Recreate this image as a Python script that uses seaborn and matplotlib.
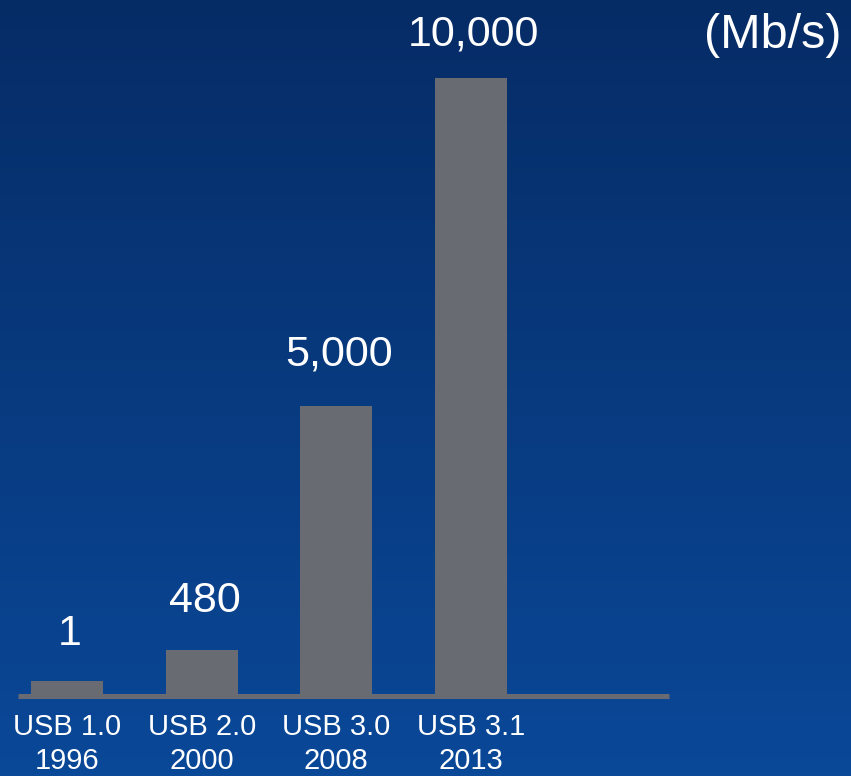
import numpy as np
import matplotlib
matplotlib.use("Agg")
import matplotlib.pyplot as plt
import seaborn as sns

# --- data ---
versions = ["USB 1.0", "USB 2.0", "USB 3.0", "USB 3.1"]
years = ["1996", "2000", "2008", "2013"]
speed_labels = ["1", "480", "5,000", "10,000"]
# bar heights as drawn on the slide (not to scale)
bar_heights = [240, 745, 4690, 10000]

bar_color = "#686c72"
sns.set_theme(style="white")
plt.rcParams["font.family"] = ["Liberation Sans", "DejaVu Sans"]

fig = plt.figure(figsize=(8.51, 7.76), dpi=100)

# blue gradient background
bg = fig.add_axes([0, 0, 1, 1], zorder=0)
grad = np.linspace(0, 1, 256).reshape(-1, 1)
cmap = matplotlib.colors.LinearSegmentedColormap.from_list("bg", ["#062c66", "#0a4898"])
bg.imshow(grad, aspect="auto", cmap=cmap, extent=[0, 1, 0, 1], origin="upper")
bg.set_axis_off()

W, H = 851, 776
ax = fig.add_axes([18 / W, (H - 696) / H, (669 - 18) / W, (696 - 78) / H], zorder=1)
ax.patch.set_alpha(0)

ax.axhline(0, color=bar_color, lw=3.6, zorder=1, solid_capstyle="butt", clip_on=False)
sns.barplot(x=versions, y=bar_heights, color=bar_color, saturation=1, width=0.535,
            linewidth=0, ax=ax, zorder=2)

ax.set_xlim(-0.364, 4.47)
ax.set_ylim(0, 10000)
ax.set_xticks(range(len(versions)))
ax.set_xticklabels([f"{v}\n{y}" for v, y in zip(versions, years)], fontsize=21,
                   color="white", linespacing=1.3)
ax.tick_params(axis="x", length=0, pad=12)
ax.set_yticks([])
ax.set_xlabel("")
ax.set_ylabel("")
for s in ax.spines.values():
    s.set_visible(False)

# gap between bar top and label baseline, in points
label_gap = [26, 27.5, 29, 23.5]
for i, (h, lab) in enumerate(zip(bar_heights, speed_labels)):
    ax.annotate(lab, xy=(i, h), xytext=(2, label_gap[i]), textcoords="offset points",
                ha="center", va="baseline", fontsize=31, color="white", annotation_clip=False)

fig.text(773 / W, 1 - 36 / H, "(Mb/s)", ha="center", va="center", fontsize=35, color="white")

fig.savefig("out.png", dpi=100)
